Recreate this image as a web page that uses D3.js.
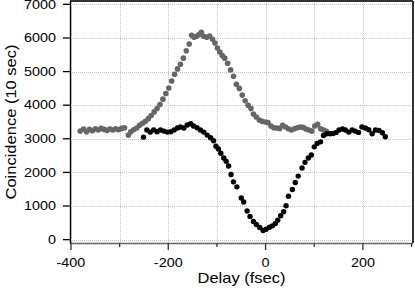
<!DOCTYPE html>
<html><head><meta charset="utf-8">
<script src="https://cdn.jsdelivr.net/npm/d3@7"></script>
<style>body{margin:0;background:#fff}svg{display:block}text{font-family:"Liberation Sans",Arial,sans-serif;fill:#000}</style>
</head><body>
<svg id="c" width="415" height="290"></svg>
<script>
// Data
const grayDelay = [-381,-374,-368,-362,-356,-350,-344,-338,-332,-326,-320,-314,-308,-302,-296,-290,-282,-277,-271,-265,-259,-253,-247,-241,-235,-229,-223,-217,-211,-205,-199,-193,-187,-181,-175,-169,-163,-157,-152,-147,-142,-137,-132,-127,-121,-115,-109,-104,-99,-94,-89,-84,-78,-72,-66,-60,-54,-48,-42,-36,-30,-25,-19,-13,-7,-1,5,11,17,23,29,35,41,47,53,59,65,71,77,83,89,95,101,107,113,119,125];
const grayCounts = [3230,3290,3210,3280,3240,3300,3260,3310,3280,3250,3290,3260,3300,3270,3310,3330,3110,3210,3270,3320,3400,3460,3520,3600,3690,3800,3900,4020,4180,4350,4510,4720,4920,5080,5220,5400,5620,5820,6080,6020,6050,6100,6170,6050,6020,6060,5960,5850,5700,5580,5480,5400,5250,5050,4860,4620,4500,4300,4130,4000,3900,3740,3650,3560,3520,3500,3480,3380,3330,3320,3310,3400,3350,3300,3260,3300,3330,3350,3340,3290,3260,3230,3380,3430,3300,3260,3220];

const blackDelay = [-251,-244,-237,-230,-223,-216,-209,-202,-195,-188,-181,-175,-168,-161,-154,-148,-141,-134,-127,-120,-113,-107,-102,-97,-92,-86,-81,-76,-71,-66,-59,-50,-45,-38,-32,-25,-19,-12,-5,1,8,14,20,25,31,37,42,47,55,61,67,75,81,88,94,100,106,113,119,126,133,139,145,151,158,164,171,178,184,191,198,205,212,219,226,233,240,246];
const blackCounts = [3050,3260,3200,3260,3210,3260,3230,3200,3210,3260,3320,3350,3320,3410,3450,3380,3330,3260,3200,3110,3030,2940,2780,2700,2570,2430,2330,2190,1940,1720,1570,1240,1120,850,690,540,450,360,270,310,370,410,480,580,710,830,1010,1290,1490,1700,1890,2130,2300,2430,2520,2760,2860,2910,3100,3150,3150,3160,3190,3260,3290,3260,3200,3260,3230,3190,3350,3320,3270,3150,3260,3250,3180,3060];

const xMajor = [-400,-200,0,200];
const xMinor = [-300,-100,100,300];
const yTicks = [0,1000,2000,3000,4000,5000,6000,7000];

const svg = d3.select("#c");
const L=70, R=413, T=1, B=243;
const x = d3.scaleLinear().domain([-402,303]).range([L,R]);
const y = d3.scaleLinear().domain([-100,7100]).range([B,T]);

// grid
const grid = svg.append("g").attr("stroke","#c4c4c4").attr("stroke-width",1).attr("stroke-dasharray","1,1");
xMajor.concat(xMinor).forEach(v=>{
  grid.append("line").attr("x1",Math.round(x(v))+0.5).attr("x2",Math.round(x(v))+0.5).attr("y1",T).attr("y2",B);
});
yTicks.forEach(v=>{
  grid.append("line").attr("x1",L).attr("x2",R).attr("y1",Math.round(y(v))+0.5).attr("y2",Math.round(y(v))+0.5);
});

// frame
svg.append("line").attr("x1",L).attr("x2",R).attr("y1",T).attr("y2",T).attr("stroke","#333").attr("stroke-width",2);
svg.append("line").attr("x1",R).attr("x2",R).attr("y1",T).attr("y2",B).attr("stroke","#333").attr("stroke-width",2);
svg.append("line").attr("x1",L).attr("x2",R).attr("y1",B+0.5).attr("y2",B+0.5).attr("stroke","#666").attr("stroke-width",1.6);
svg.append("line").attr("x1",L+0.5).attr("x2",L+0.5).attr("y1",T).attr("y2",B+1).attr("stroke","#000").attr("stroke-width",1.4);

// x ticks
xMajor.forEach(v=>{
  svg.append("line").attr("x1",x(v)).attr("x2",x(v)).attr("y1",B).attr("y2",B+7).attr("stroke","#333").attr("stroke-width",1.3);
  svg.append("text").attr("transform",`translate(${x(v)},${267}) scale(1.2,1)`).attr("text-anchor","middle").attr("font-size",12).text(v);
});
xMinor.forEach(v=>{
  svg.append("line").attr("x1",x(v)).attr("x2",x(v)).attr("y1",B).attr("y2",B+4).attr("stroke","#333").attr("stroke-width",1.3);
});
// y ticks
yTicks.forEach(v=>{
  svg.append("line").attr("x1",L-7).attr("x2",L).attr("y1",y(v)).attr("y2",y(v)).attr("stroke","#000").attr("stroke-width",1.3);
  svg.append("text").attr("transform",`translate(${L-14},${y(v)+4.3}) scale(1.2,1)`).attr("text-anchor","end").attr("font-size",12).text(v);
});

// axis titles
svg.append("text").attr("transform",`translate(${(L+R)/2},283) scale(1.18,1)`).attr("text-anchor","middle").attr("font-size",14).text("Delay (fsec)");
svg.append("text").attr("transform",`translate(16,${(T+B)/2}) rotate(-90) scale(1.18,1)`).attr("text-anchor","middle").attr("font-size",14).text("Coincidence (10 sec)");

// data
svg.append("g").selectAll("circle").data(grayDelay.map((d,i)=>[d,grayCounts[i]])).join("circle")
  .attr("cx",d=>x(d[0])).attr("cy",d=>y(d[1])).attr("r",2.8).attr("fill","#666");
svg.append("g").selectAll("circle").data(blackDelay.map((d,i)=>[d,blackCounts[i]])).join("circle")
  .attr("cx",d=>x(d[0])).attr("cy",d=>y(d[1])).attr("r",2.7).attr("fill","#000");
</script>
</body></html>
